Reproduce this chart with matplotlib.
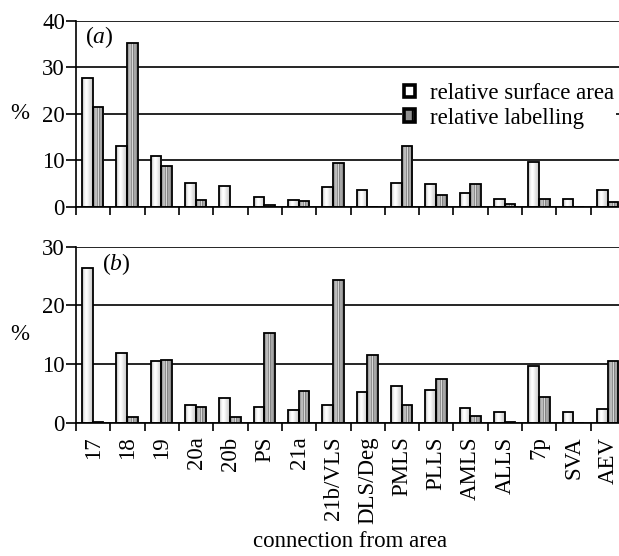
#!/usr/bin/env python3
"""Relative surface area vs relative labelling per connection area, two panels."""

import matplotlib
matplotlib.use("Agg")
import matplotlib.pyplot as plt
import numpy as np
from matplotlib.patches import Patch

areas = ["17", "18", "19", "20a", "20b", "PS", "21a", "21b/VLS", "DLS/Deg",
         "PMLS", "PLLS", "AMLS", "ALLS", "7p", "SVA", "AEV"]

surface_a = [27.6, 13.0, 11.0, 5.1, 4.4, 2.0, 1.4, 4.2, 3.6,
             5.2, 4.9, 2.9, 1.7, 9.7, 1.6, 3.5]
labelling_a = [21.4, 35.1, 8.7, 1.5, 0.0, 0.3, 1.3, 9.5, 0.0,
               13.0, 2.6, 4.9, 0.5, 1.6, 0.0, 1.1]

surface_b = [26.4, 11.8, 10.6, 3.0, 4.2, 2.6, 2.1, 3.0, 5.3,
             6.3, 5.6, 2.5, 1.8, 9.7, 1.8, 2.3]
labelling_b = [0.2, 1.0, 10.7, 2.7, 1.0, 15.3, 5.4, 24.3, 11.6,
               3.1, 7.5, 1.1, 0.2, 4.3, 0.0, 10.6]

plt.rcParams["font.family"] = ["Liberation Serif", "DejaVu Serif"]
plt.rcParams["mathtext.fontset"] = "custom"
plt.rcParams["mathtext.it"] = "Liberation Serif:italic"
plt.rcParams["mathtext.rm"] = "Liberation Serif"

FS = 16.5

# shading across the width of a bar (grey levels), mimics the cylinder look
surf_shade = np.array([[0.72, 0.88, 0.97, 1.0, 0.98, 0.93, 0.88, 0.84, 0.8]])
lab_shade = np.array([[0.82, 0.55, 0.88, 0.5, 0.85, 0.45, 0.78, 0.5, 0.7]])


def shaded_bars(ax, x, heights, width, shade):
    bars = ax.bar(x, heights, width, align="edge", facecolor="none",
                  edgecolor="black", linewidth=1.3, zorder=3)
    for rect in bars:
        h = rect.get_height()
        if h <= 0:
            continue
        x0 = rect.get_x()
        im = ax.imshow(shade, cmap="gray", vmin=0, vmax=1, aspect="auto",
                       extent=(x0, x0 + rect.get_width(), 0, h),
                       interpolation="bilinear", zorder=2)
        im.set_clip_path(rect)
    return bars


def setup_axes(ax, ymax, step):
    n = len(areas)
    ax.set_yticks(np.arange(0, ymax + 1, step))
    ax.set_xticks(np.arange(n + 1), minor=True)
    ax.tick_params(axis="x", which="minor", direction="out", length=6,
                   width=1.2)
    ax.tick_params(axis="y", direction="out", length=7, width=1.2,
                   labelsize=FS, pad=1)
    for side in ["top", "right"]:
        ax.spines[side].set_visible(False)
    for side in ["left", "bottom"]:
        ax.spines[side].set_linewidth(1.2)
    ax.yaxis.grid(True, color="black", linewidth=1.2)
    ax.set_axisbelow(True)
    ax.set_ylabel("%", rotation=0, fontsize=FS, labelpad=16, va="center")


fig = plt.figure(figsize=(6.19, 5.56), dpi=100)
left = 76 / 619
width = 549 / 619
ax_a = fig.add_axes([left, 1 - 206.7 / 556, width, (206.7 - 20.7) / 556])
ax_b = fig.add_axes([left, 1 - 422.7 / 556, width, (422.7 - 246.7) / 556])

idx = np.arange(len(areas))
bw = 0.31
off = 0.18

for ax, surf, lab, ymax in [(ax_a, surface_a, labelling_a, 40),
                            (ax_b, surface_b, labelling_b, 30)]:
    setup_axes(ax, ymax, 10)
    shaded_bars(ax, idx + off, surf, bw, surf_shade)
    shaded_bars(ax, idx + off + bw, lab, bw, lab_shade)
    ax.set_xlim(0, len(areas))
    ax.set_ylim(0, ymax)

ax_a.set_xticks([])
ax_b.set_xticks(idx + 0.5)
ax_b.set_xticklabels(areas, rotation=90, fontsize=FS)
ax_b.tick_params(axis="x", which="major", length=0, pad=10)
ax_b.set_xlabel("connection from area", fontsize=FS, labelpad=5)

ax_a.text(0.27, 36.5, r"($\mathit{a}$)", fontsize=17, va="center")
ax_b.text(0.75, 27.0, r"($\mathit{b}$)", fontsize=17, va="center")

handles = [
    Patch(facecolor="white", edgecolor="black", linewidth=2.6),
    Patch(facecolor="#909090", edgecolor="black", linewidth=2.6,
          hatch="||"),
]
fig.legend(handles, ["relative surface area", "relative labelling"],
           loc="upper left", bbox_to_anchor=(402 / 619, 1 - 81 / 556),
           fontsize=FS, frameon=True, facecolor="white", edgecolor="none",
           framealpha=1, handlelength=0.45, handleheight=0.45,
           handletextpad=0.65, labelspacing=0.15, borderpad=0.1,
           borderaxespad=0)

fig.savefig("out.png", dpi=100)
